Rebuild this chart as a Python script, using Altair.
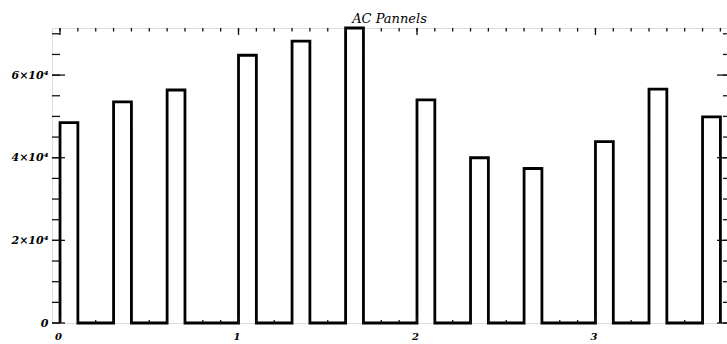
import altair as alt
import numpy as np
import pandas as pd

# Histogram-style step plot: each bar is 0.1 wide, starting at these x positions
BAR_START = [0.0, 0.3, 0.6, 1.0, 1.3, 1.6, 2.0, 2.3, 2.6, 3.0, 3.3, 3.6]
BAR_VALUE = [48500, 53500, 56400, 64800, 68200, 71400, 54000, 40000, 37400, 43900, 56600, 49900]
BAR_WIDTH = 0.1

X_DOMAIN = [-0.045, 3.737]
Y_DOMAIN = [0, 71400]

X_MAJOR = [0, 1, 2, 3]
X_MINOR = [round(v, 1) for v in np.arange(0.0, 3.71, 0.1)]
Y_MAJOR = [0, 20000, 40000, 60000]
Y_MINOR = list(range(0, 70001, 5000))

TITLE = "AC Pannels"
FONT = "DejaVu Serif"

W, H = 675, 295

# Build the outline path of the step plot from the bar values
rows = []
k = 0
for s, v in zip(BAR_START, BAR_VALUE):
    e = round(s + BAR_WIDTH, 3)
    for xx, yy in [(s, 0), (s, v), (e, v), (e, 0)]:
        rows.append({"x": xx, "y": yy, "i": k})
        k += 1
path = pd.DataFrame(rows)

xs = alt.Scale(domain=X_DOMAIN, nice=False, zero=False)
ys = alt.Scale(domain=Y_DOMAIN, nice=False, zero=False)

x_axis = alt.Axis(
    values=X_MAJOR, format="d", title=None, grid=False, domain=False,
    ticks=False, labelFont=FONT, labelFontStyle="italic", labelFontWeight="bold",
    labelFontSize=10, labelPadding=8, labelColor="#000", labelOffset=-2,
)
y_axis = alt.Axis(
    values=Y_MAJOR, title=None, grid=False, domain=False, ticks=False,
    labelExpr="datum.value == 0 ? '0' : (datum.value / 10000) + '×10⁴'",
    labelFont=FONT, labelFontStyle="italic", labelFontWeight="bold",
    labelFontSize=11, labelPadding=4, labelColor="#000",
)

steps = alt.Chart(path).mark_line(
    color="#000", strokeWidth=2.8, strokeJoin="miter", clip=False
).encode(
    x=alt.X("x:Q", scale=xs, axis=x_axis),
    y=alt.Y("y:Q", scale=ys, axis=y_axis),
    order="i:Q",
)

xmin = pd.DataFrame({"x": X_MINOR})
xmaj = pd.DataFrame({"x": X_MAJOR})
ymin = pd.DataFrame({"y": Y_MINOR})
ymaj = pd.DataFrame({"y": Y_MAJOR})

tick_style = dict(color="#111", strokeWidth=1.3)

def xticks(df, y0, y1):
    return alt.Chart(df).mark_rule(**tick_style).encode(
        x=alt.X("x:Q", scale=xs, axis=x_axis),
        y=alt.value(y0), y2=alt.value(y1),
    )

def yticks(df, x0, x1):
    return alt.Chart(df).mark_rule(**tick_style).encode(
        y=alt.Y("y:Q", scale=ys, axis=y_axis),
        x=alt.value(x0), x2=alt.value(x1),
    )

ticks = [
    xticks(xmin, 0, 3.5), xticks(xmaj, 0, 7),
    xticks(xmin, H - 3, H), xticks(xmaj, H - 7, H),
    yticks(ymin, 0, 8), yticks(ymaj, 0, 13),
    yticks(ymin, W - 4, W), yticks(ymaj, W - 10, W),
]

chart = alt.layer(steps, *ticks).properties(
    width=W, height=H,
    title=alt.TitleParams(
        TITLE, font=FONT, fontStyle="italic", fontWeight="normal",
        fontSize=13, color="#000", offset=-4, anchor="middle",
    ),
    autosize=alt.AutoSizeParams(type="none"),
    padding={"left": 52, "top": 28, "right": 0, "bottom": 21},
).configure_view(stroke="#111", strokeWidth=1.4).configure(background="white")

chart.save("out.html", embed_options={"renderer": "svg", "actions": False})
